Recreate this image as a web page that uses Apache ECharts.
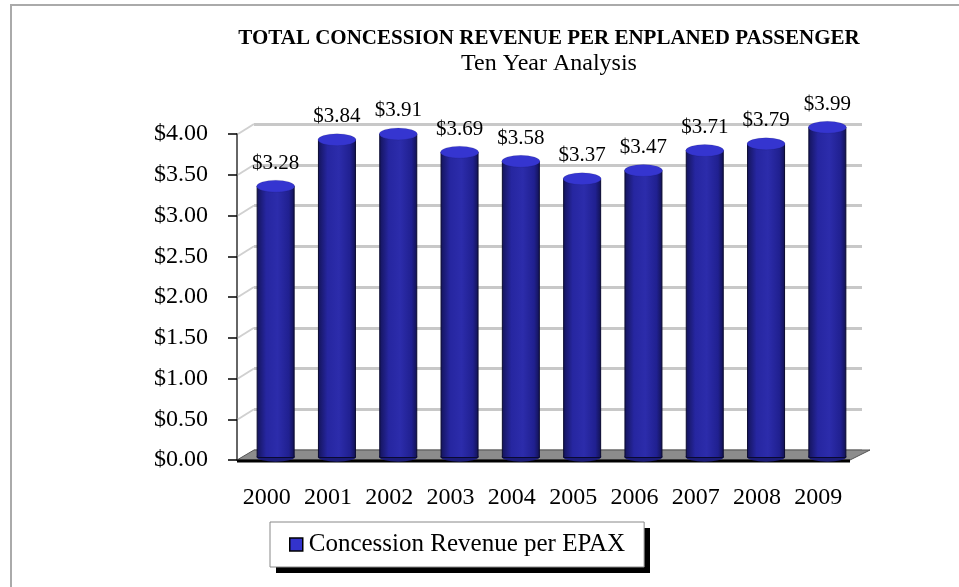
<!DOCTYPE html>
<html>
<head>
<meta charset="utf-8">
<script src="https://cdn.jsdelivr.net/npm/echarts@6/dist/echarts.min.js"></script>
<style>
  html, body { margin: 0; padding: 0; background: #fff; }
  #chart { width: 959px; height: 587px; }
</style>
</head>
<body>
<div id="chart"></div>
<script>
// data
var years = ['2000', '2001', '2002', '2003', '2004', '2005', '2006', '2007', '2008', '2009'];
var revenue = [3.28, 3.84, 3.91, 3.69, 3.58, 3.37, 3.47, 3.71, 3.79, 3.99];
var yTicks = [0, 0.5, 1, 1.5, 2, 2.5, 3, 3.5, 4];
var seriesName = 'Concession Revenue per EPAX';

// layout
var serif = '"Liberation Serif", "Times New Roman", serif';
var gLeft = 245, gWidth = 613, gTop = 134, gBottom = 127;
var depthX = 17, depthY = 10;
var legLeft = 270, legTop = 522, legW = 374, legH = 45;

var barFill = new echarts.graphic.LinearGradient(0, 0, 1, 0, [
  { offset: 0, color: '#14145a' },
  { offset: 0.25, color: '#2626a0' },
  { offset: 0.55, color: '#2c2cab' },
  { offset: 0.85, color: '#202090' },
  { offset: 1, color: '#121250' }
]);

var myChart = echarts.init(document.getElementById('chart'));
myChart.setOption({
  animation: false,
  title: [
    {
      text: 'TOTAL CONCESSION REVENUE PER ENPLANED PASSENGER',
      left: 544, top: 23, textAlign: 'center',
      textStyle: { fontFamily: serif, fontSize: 21, fontWeight: 'bold', color: '#000' }
    },
    {
      text: 'Ten Year Analysis',
      left: 544, top: 47, textAlign: 'center',
      textStyle: { fontFamily: serif, fontSize: 24, fontWeight: 'normal', color: '#000' }
    }
  ],
  legend: {
    data: [seriesName],
    left: legLeft, top: legTop,
    padding: [10, 19, 10, 19],
    backgroundColor: '#fff',
    borderColor: '#888', borderWidth: 1,
    icon: 'rect', itemWidth: 13, itemHeight: 13, itemGap: 2,
    itemStyle: { color: '#3333cc', borderColor: '#000', borderWidth: 1.5 },
    textStyle: { fontFamily: serif, fontSize: 25, color: '#000', padding: [0, 0, 0, 1] }
  },
  grid: [
    // front axes
    { left: gLeft, width: gWidth, top: gTop, bottom: gBottom },
    // back wall
    { left: gLeft - 8 + depthX, width: gWidth - 5, top: gTop - depthY, bottom: gBottom + depthY },
    // cylinders stand at mid depth
    { left: gLeft, width: gWidth, top: gTop - 8, bottom: gBottom + 2 }
  ],
  xAxis: [
    {
      type: 'category', gridIndex: 0, data: years,
      axisLine: { show: false }, axisTick: { show: false },
      axisLabel: {
        interval: 0, fontFamily: serif, fontSize: 24, color: '#000',
        margin: 26, padding: [0, 18, 0, 0]
      }
    },
    { type: 'category', gridIndex: 1, data: years, show: false },
    { type: 'category', gridIndex: 2, data: years, show: false }
  ],
  yAxis: [
    {
      type: 'value', gridIndex: 0, min: 0, max: 4, interval: 0.5, offset: 8,
      axisLine: { show: true, lineStyle: { color: '#666', width: 2 } },
      axisTick: { show: true, length: 9, lineStyle: { color: '#000', width: 1.5 } },
      splitLine: { show: false },
      axisLabel: {
        fontFamily: serif, fontSize: 24, color: '#000', margin: 29,
        formatter: function (v) { return '$' + v.toFixed(2); }
      }
    },
    {
      type: 'value', gridIndex: 1, min: 0, max: 4, interval: 0.5,
      axisLine: { show: false }, axisTick: { show: false }, axisLabel: { show: false },
      splitLine: { show: true, lineStyle: { color: '#c8c8c8', width: 3 } }
    },
    { type: 'value', gridIndex: 2, min: 0, max: 4, interval: 0.5, show: false, splitLine: { show: false } }
  ],
  series: [
    {
      name: seriesName, type: 'bar', xAxisIndex: 2, yAxisIndex: 2,
      data: revenue, barWidth: 38, z: 3,
      itemStyle: { color: barFill, borderColor: '#0a0a30', borderWidth: 1 },
      label: {
        show: true, position: 'top', distance: 12,
        fontFamily: serif, fontSize: 21, color: '#000',
        formatter: function (p) { return '$' + p.value.toFixed(2); }
      }
    },
    {
      name: seriesName, type: 'pictorialBar', xAxisIndex: 2, yAxisIndex: 2,
      data: revenue, symbol: 'circle', symbolSize: [38, 10],
      symbolPosition: 'start', symbolOffset: [0, '40%'], z: 2,
      itemStyle: { color: '#1c1c78', borderColor: '#0a0a30', borderWidth: 1 },
      tooltip: { show: false }
    },
    {
      name: seriesName, type: 'pictorialBar', xAxisIndex: 2, yAxisIndex: 2,
      data: revenue, symbol: 'circle', symbolSize: [38, 12],
      symbolPosition: 'end', symbolOffset: [0, '-50%'], z: 4,
      itemStyle: { color: '#3535d0', borderColor: '#000', borderWidth: 1.5 }
    }
  ]
});

// frame, floor, side wall and legend shadow, placed from the axes' own scale
var y0 = myChart.convertToPixel({ yAxisIndex: 0 }, 0);
var xA = gLeft - 8, xB = gLeft + gWidth - 8;
var deco = [
  {
    type: 'polyline', z: 0,
    shape: { points: [[11, 600], [11, 5], [960, 5]] },
    style: { fill: null, stroke: '#aaa', lineWidth: 2 }
  },
  {
    type: 'rect', z: 0,
    shape: { x: legLeft + 6, y: legTop + 6, width: legW, height: legH },
    style: { fill: '#000' }
  },
  {
    type: 'polygon', z: 1,
    shape: { points: [[xA, y0], [xA + depthX, y0 - depthY], [xB + depthX + 3, y0 - depthY], [xB, y0]] },
    style: { fill: '#8c8c8c', stroke: '#555', lineWidth: 1 }
  },
  {
    type: 'line', z: 1,
    shape: { x1: xA, y1: y0 + 1, x2: xB, y2: y0 + 1 },
    style: { stroke: '#000', lineWidth: 3 }
  }
];
yTicks.forEach(function (v) {
  var y = myChart.convertToPixel({ yAxisIndex: 0 }, v);
  if (v > 0) {
    deco.push({
      type: 'line', z: 1,
      shape: { x1: xA + 1, y1: y, x2: xA + depthX, y2: y - depthY },
      style: { stroke: '#d0d0d0', lineWidth: 2 }
    });
  }
});
myChart.setOption({ graphic: deco });
</script>
</body>
</html>
